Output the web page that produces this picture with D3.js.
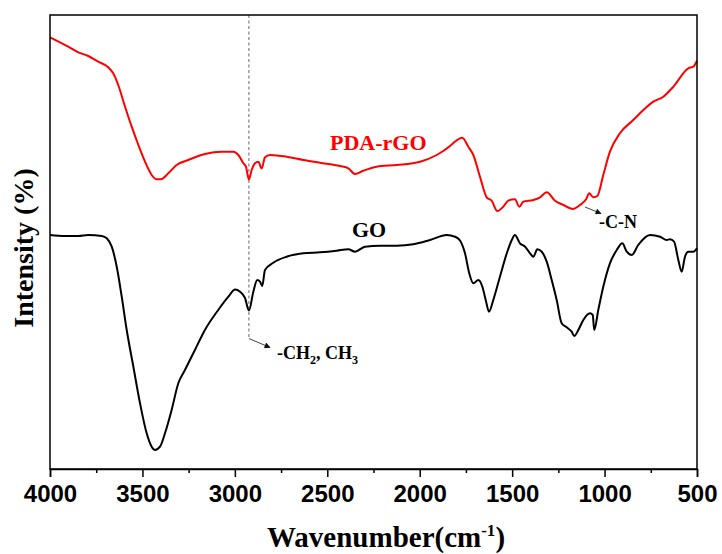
<!DOCTYPE html>
<html><head><meta charset="utf-8">
<script src="https://cdn.jsdelivr.net/npm/d3@7"></script>
<style>body{margin:0;background:#fff}svg{display:block}</style>
</head><body>
<svg id="c" width="722" height="554"></svg>
<script>
// Wavenumber (cm-1) and intensity (a.u.) for PDA-rGO
const pdaWave = [4000,3901,3847,3793,3739,3685,3658,3631,3594,3558,3522,3486,3450,3423,3400,3360,3315,3252,3162,3071,3008,2981,2954,2940,2924,2909,2891,2873,2855,2837,2810,2720,2630,2539,2431,2386,2350,2305,2233,2124,1998,1908,1836,1818,1770,1737,1710,1674,1638,1611,1580,1548,1521,1485,1461,1440,1385,1349,1313,1268,1223,1172,1133,1100,1083,1061,1039,1007,971,917,845,790,736,682,628,547,520,500];
const pdaVal  = [431.7,422.3,416.7,413,407.3,401.7,395.7,384,362.3,342.3,324,307.3,294,289.7,289.7,295.7,304,309,315,317.3,317.3,314,305.7,302.3,289.5,299,305.7,307.3,300.5,311.7,314,312.3,309,306.3,303,300.7,295,298.3,302.3,304,307.3,314,323,326,331.3,322.3,314,292.3,271.7,268.3,258,262.3,268.3,269.7,262.3,267.3,269,271.7,276.7,268.3,264,260,264,269.7,275.7,271.7,273,294,317.3,335.7,349,359,367.3,372.3,382.3,400.7,402.3,408.3];
// Wavenumber (cm-1) and intensity (a.u.) for GO
const goWave = [4000,3919,3847,3793,3720,3693,3666,3639,3612,3585,3549,3513,3477,3450,3432,3405,3378,3342,3306,3270,3216,3162,3090,3035,2999,2972,2945,2924,2900,2879,2864,2852,2837,2792,2720,2630,2539,2449,2386,2350,2296,2215,2124,2035,1944,1854,1809,1782,1755,1732,1710,1683,1661,1643,1625,1602,1566,1529,1502,1485,1458,1430,1403,1385,1364,1340,1313,1286,1259,1232,1205,1178,1164,1142,1115,1079,1064,1056,1034,1007,971,934,904,880,853,818,754,700,664,646,624,601,583,565,547,520,500];
const goVal  = [234,233,233,234,233,230.7,222.3,202.3,172.3,139,102.3,65.7,35.7,22.3,19,22.3,35.7,59,85.7,99,119,139,159,172.3,179.5,177.3,171,158.5,177.3,189,187.3,183,199,206.3,212.3,215.7,216.7,218.3,219.7,217.3,222.3,223.3,223.3,224.7,229,234,232.3,228.5,215.7,195.7,185.7,189,182.3,169,157.3,169,192.3,215.7,229,234,225.7,222.3,215.7,212.3,219.7,217.3,207.3,189,169,145.7,141.7,137.3,133,139,149,155.7,154,139,159,182.3,205.7,219,225.7,217.3,214,224,234,232.3,229,229.7,227.3,209,197.3,212.3,217.3,217.3,220.7];
const majorTicks = [4000,3500,3000,2500,2000,1500,1000,500];
const minorTicks = [3750,3250,2750,2250,1750,1250,750];
const seriesNames = ["PDA-rGO","GO"];
const markWave = 2924;

const svg = d3.select("#c");
const L=50,R=697,T=15,B=469;
const x = d3.scaleLinear().domain([4000,500]).range([L,R]);
const y = d3.scaleLinear().domain([0,454]).range([B,T]);

// dashed marker line
svg.append("line").attr("x1",x(markWave)).attr("x2",x(markWave))
  .attr("y1",T).attr("y2",338.5)
  .attr("stroke","#666").attr("stroke-width",1).attr("stroke-dasharray","3,2.5");

const defs = svg.append("defs");
defs.append("marker").attr("id","ah").attr("viewBox","0 0 10 10").attr("refX",9).attr("refY",5)
  .attr("markerWidth",8).attr("markerHeight",6).attr("orient","auto").attr("markerUnits","userSpaceOnUse")
  .append("path").attr("d","M0,0L10,5L0,10z").attr("fill","#111");

svg.append("line").attr("x1",x(markWave)).attr("y1",338.5).attr("x2",270).attr("y2",347.5)
  .attr("stroke","#444").attr("stroke-width",1).attr("marker-end","url(#ah)");
svg.append("line").attr("x1",585).attr("y1",207).attr("x2",601).attr("y2",213.5)
  .attr("stroke","#444").attr("stroke-width",1).attr("marker-end","url(#ah)");

const line = d3.line().x(d=>x(d[0])).y(d=>y(d[1])).curve(d3.curveMonotoneX);
svg.append("path").datum(pdaWave.map((w,i)=>[w,pdaVal[i]]))
  .attr("d",line).attr("fill","none").attr("stroke","#ff0000").attr("stroke-width",2);
svg.append("path").datum(goWave.map((w,i)=>[w,goVal[i]]))
  .attr("d",line).attr("fill","none").attr("stroke","#000").attr("stroke-width",2);

// frame
svg.append("rect").attr("x",L).attr("y",T).attr("width",R-L).attr("height",B-T)
  .attr("fill","none").attr("stroke","#000").attr("stroke-width",1.5);

// axis
const ax = svg.append("g").attr("transform",`translate(0,${B})`)
  .call(d3.axisBottom(x).tickValues(majorTicks).tickSize(8).tickFormat(d3.format("d")));
ax.select(".domain").attr("stroke-width",1.5);
ax.selectAll(".tick line").attr("stroke-width",1.5);
ax.selectAll(".tick text").attr("y",33).attr("dy",null)
  .style("font-family","'Liberation Sans',Arial,sans-serif").style("font-weight","bold").style("font-size","24px").attr("fill","#000");
const axm = svg.append("g").attr("transform",`translate(0,${B})`)
  .call(d3.axisBottom(x).tickValues(minorTicks).tickSize(4).tickFormat(""));
axm.select(".domain").remove();
axm.selectAll(".tick line").attr("stroke-width",1.5);

const serif = "'Liberation Serif','Times New Roman',serif";
// x title
const xt = svg.append("text").attr("x",386).attr("y",547).attr("text-anchor","middle")
  .style("font-family",serif).style("font-weight","bold").style("font-size","29px");
xt.append("tspan").text("Wavenumber(cm");
xt.append("tspan").attr("dy",-11).style("font-size","17px").text("-1");
xt.append("tspan").attr("dy",11).text(")");

// y title
svg.append("text").attr("transform","translate(33,248) rotate(-90)").attr("text-anchor","middle")
  .style("font-family",serif).style("font-weight","bold").style("font-size","28px").text("Intensity (%)");

// series labels
svg.append("text").attr("x",330).attr("y",150).attr("fill","#ff0000")
  .style("font-family",serif).style("font-weight","bold").style("font-size","22px").text(seriesNames[0]);
svg.append("text").attr("x",352).attr("y",237).attr("fill","#000")
  .style("font-family",serif).style("font-weight","bold").style("font-size","22px").text(seriesNames[1]);

// annotations
svg.append("text").attr("x",599).attr("y",227.5)
  .style("font-family",serif).style("font-weight","bold").style("font-size","18px").text("-C-N");
const ch = svg.append("text").attr("x",277).attr("y",358.5)
  .style("font-family",serif).style("font-weight","bold").style("font-size","18px");
ch.append("tspan").text("-CH");
ch.append("tspan").attr("dy",5).style("font-size","12px").text("2");
ch.append("tspan").attr("dy",-5).text(", CH");
ch.append("tspan").attr("dy",5).style("font-size","12px").text("3");
</script>
</body></html>
